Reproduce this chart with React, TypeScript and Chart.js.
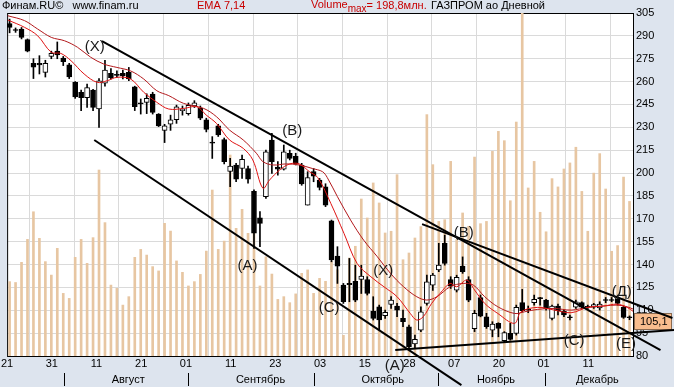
import React, { useEffect, useRef } from "react";
import { Chart, registerables } from "chart.js";

Chart.register(...registerables);

// ---- axis text ----
const tickLabels = ["21", "31", "11", "21", "01", "11", "23", "03", "15", "28", "07", "20", "01", "11"];
const monthNames = ["Август", "Сентябрь", "Октябрь", "Ноябрь", "Декабрь"];
const monthCenters = [19.9, 42.1, 62.6, 81.6, 98.6];
const monthBreaks = [9.1, 29.9, 51.1, 71.9, 89.9];
const priceTicks = [80, 95, 110, 125, 140, 155, 170, 185, 200, 215, 230, 245, 260, 275, 290, 305];

// ---- daily candles (ГАЗПРОМ ао) ----
const opens = [
  298, 294.2, 294.5, 287.5, 272, 272, 266, 276.5, 280, 275.5,
  271, 259.5, 253, 249.5, 254.5, 242, 259, 265.5, 264.8, 265.5,
  266, 256.5, 246.1, 246.4, 251.8, 238.7, 228, 232, 235, 241,
  239, 244, 242.5, 235, 220.3, 231, 222, 201, 205.3, 203,
  203, 188, 170.7, 184.5, 221.7, 204, 202.5, 213, 211, 205.3,
  179, 201, 195.4, 191, 168.7, 145.5, 126.5, 127.6, 129, 130.2,
  130.2, 109.4, 112.3, 106.4, 113.8, 112.8, 104.7, 99.2, 88, 97,
  114.5, 126.5, 136.4, 153.9, 130.2, 123.2, 139, 130.2, 98, 118.4,
  105.7, 97, 101.4, 90, 94.8, 94.8, 115, 110.6, 115, 118.3,
  116.7, 104.7, 112.8, 109.5, 105.7, 112, 115, 112.6, 112, 111.5,
  117, 117, 117.2, 112, 105.7,
];
const highs = [
  301, 295.2, 295.5, 288, 275, 277, 274, 280, 286, 276.5,
  272, 260, 254.5, 258.4, 255, 262, 274, 268.5, 267, 267.6,
  269.3, 257, 248.6, 252, 253, 239, 232, 238, 244.6, 244,
  246, 247.5, 244, 236, 223.9, 232, 223, 209.6, 206.4, 211.8,
  204.6, 189, 174.7, 215, 226, 207.5, 218.4, 215, 213, 206.4,
  200.9, 203, 196.5, 193, 169.2, 151.7, 127.6, 144, 139.6, 139.6,
  132, 118.9, 113.4, 110.1, 118.9, 114.5, 110.1, 100.3, 93.7, 112.3,
  133, 134.2, 153.9, 159.3, 132, 133, 145, 132, 110, 120,
  108, 102.5, 101.8, 96, 101.4, 113.4, 123.7, 112.8, 120, 118.5,
  117.2, 113.4, 114, 110.1, 106.9, 116.7, 115.6, 113.4, 114.5, 115.6,
  118.4, 118.4, 118.9, 112.8, 106.3,
];
const lows = [
  292, 292.3, 288, 279.5, 262, 265, 263, 275, 275, 270.5,
  262, 249, 241, 243, 241, 230, 257, 261.7, 262.8, 261.7,
  260.6, 241, 238.7, 239, 238.7, 230.5, 220, 228, 232.6, 238,
  238, 243, 235, 227, 209.6, 224, 206, 191, 194.3, 196.5,
  193.3, 150.6, 151.7, 183.4, 199.8, 198.7, 202, 208.6, 205.3, 192,
  179, 194.3, 188.9, 178, 141.8, 127.6, 114.5, 115.6, 115.6, 121,
  120, 103.6, 97, 104.7, 111.2, 105.8, 99.2, 85, 85, 95.9,
  113.4, 123, 135.3, 139.6, 124.3, 122, 134.2, 115.6, 96, 105.7,
  98.1, 92.6, 92.6, 89.4, 90.4, 93.7, 109, 108.4, 113.4, 113.4,
  110.1, 103.6, 106.9, 105.8, 103.6, 111.2, 111.2, 111.2, 111.2, 110.1,
  115, 115.6, 113.4, 104.7, 103.8,
];
const closes = [
  295.6, 293.5, 289, 280, 269.5, 271, 272, 278.5, 277.5, 273,
  263, 250, 249.5, 256, 243, 260.5, 267.5, 262.5, 264.1, 263.7,
  261.7, 243.5, 245.4, 249, 239.8, 231, 231, 235, 243.5, 242,
  244.5, 246, 236, 228.7, 219.6, 225, 207.5, 204.6, 196, 209,
  196, 160.5, 167, 214, 207.5, 202.5, 214, 209.6, 206, 192.8,
  197, 198, 190.6, 179, 143, 139, 115.6, 126.8, 116.7, 132.4,
  121, 104.7, 103.6, 108.6, 116.7, 110.1, 102.5, 86.1, 91, 109,
  128.7, 133, 139.6, 140.7, 125.8, 131.6, 135.3, 116.7, 108, 106.2,
  99.2, 101, 98.1, 95.3, 90.9, 111.9, 109.7, 110, 117.2, 117.6,
  111.2, 112.8, 109.7, 107, 105.1, 115.6, 112, 112, 113.8, 114,
  116.4, 116.4, 114.5, 105.3, 105.1,
];
// volume, млн. шт.
const volumes = [
  43.1, 42.6, 54.3, 67.6, 83.6, 68.2, 54.7, 46.9, 62.4, 36.3,
  33.4, 57.2, 67.6, 53.7, 68.6, 107.8, 77.3, 41.1, 39.2, 29.5,
  34.4, 57.2, 61.8, 58.5, 51.8, 49.3, 76.9, 72.4, 55.1, 48.5,
  40.6, 43.1, 47.3, 60.8, 96.2, 61.8, 66.6, 116.5, 74, 85,
  71.1, 95, 40.6, 57.5, 47.5, 32.8, 34.4, 30.9, 36, 47.9,
  49.9, 36.3, 45, 43.3, 55, 50, 12, 56.8, 63.6, 91,
  80, 100.3, 88.7, 71.3, 72.3, 105.1, 55.8, 59.7, 68.4, 75,
  139.9, 110.9, 78, 79, 112.8, 67.4, 82.9, 75.2, 115.3, 76.7,
  78, 118.6, 130.2, 124.8, 90, 135.6, 198.8, 97.4, 112.8, 83.3,
  72, 102.8, 98, 108.4, 111.9, 121, 95.4, 72.3, 106, 117.3,
  96.8, 60.7, 64, 103.7, 89.6,
];
const volumeMax = 198.8;
const lastPrice = 105.1;

// ---- EMA lines: [candle index, value] ----
const emaFast = [
  [-0.3, 300.4], [2.5, 295.6], [4.7, 290.1], [7, 279.2], [8.6, 278.5], [10.3, 273.7], [12.5, 265],
  [14.7, 259.5], [16.4, 260.6], [18, 262.8], [20.3, 261.7], [22.5, 253], [24.7, 246.4], [26.7, 242],
  [29.2, 242.4], [31.4, 243.5], [33, 238], [34.7, 232.6], [36.9, 221.7], [39.2, 216.2], [40.8, 208.6],
  [42.5, 190], [43.6, 195.4], [45.3, 202], [47, 206], [48.6, 206], [50.3, 200.9], [51.7, 197],
  [53.9, 180], [56.1, 160.4], [58.3, 140.7], [60.6, 132], [62.8, 125.4], [65, 118.9], [67.2, 108],
  [68.3, 103.6], [69.4, 105.8], [70.8, 114.5], [72.2, 121], [73.9, 127.6], [75, 125.4], [76.7, 129.8],
  [78, 123.3], [79.7, 114.5], [81.9, 107.9], [84.7, 101.4], [85.8, 109], [88.6, 111.9], [91.4, 110.1],
  [94.2, 108.4], [97, 111.9], [99.7, 112.8], [101.9, 114], [103.6, 111.9], [104.7, 109],
];
const emaSlow = [
  [-0.3, 303.2], [2.5, 300], [4.7, 294.5], [7, 289], [9.2, 286.8], [11.4, 282.5], [13.6, 276],
  [15.8, 271.5], [18, 269.3], [20.3, 267], [22.5, 261.7], [24.7, 254], [26.7, 250.8], [29.2, 245.7],
  [32.5, 242.5], [34.7, 237], [36.9, 228.2], [39.2, 221.7], [41.4, 213], [42.5, 207.5], [44.2, 205.3],
  [46.4, 206], [48.6, 205.3], [50.8, 203], [52.5, 200.9], [53.3, 197], [55, 184.5], [57.2, 169.2],
  [59.4, 156], [61.7, 145.1], [63.9, 134.2], [66.1, 125.4], [68.3, 118.9], [70, 116.7], [71.7, 118.9],
  [73.9, 125.4], [76.1, 127.6], [77.8, 126.5], [79.7, 118.9], [81.9, 112.3], [84.7, 107.9], [86.4, 109],
  [88.6, 110.6], [91.4, 111.2], [94.2, 110.1], [97, 111.9], [99.7, 112.8], [101.9, 113.4], [103.6, 112.3],
  [104.7, 110.6],
];

// ---- hand-drawn trend lines: [candle index, price] endpoints ----
const trendLines = [
  [[15.5, 286.6], [109.2, 83.9]],
  [[14.2, 221.7], [75.8, 60.9]],
  [[64.7, 83.9], [111.5, 97]],
  [[69.2, 166.5], [111.2, 104.9]],
];

// ---- wave labels ----
const waveText = ["(X)", "(B)", "(A)", "(C)", "(X)", "(B)", "(A)", "(C)", "(Д)", "(E)"];
const waveX = [14.3, 47.4, 39.9, 53.6, 62.7, 76.2, 64.6, 94.7, 102.7, 103.4];
const waveY = [282.7, 227.6, 139, 111.4, 135.7, 160.6, 73.4, 89.8, 121.9, 87.8];

const FONT = "'Liberation Sans', Arial, sans-serif";

export default function App() {
  const ref = useRef<HTMLCanvasElement | null>(null);

  useEffect(() => {
    document.body.style.margin = "0";
    const canvas = ref.current;
    if (!canvas) return;

    const decor = {
      id: "decor",
      beforeDraw(chart: any) {
        const { ctx, chartArea: a, width, height } = chart;
        ctx.save();
        ctx.fillStyle = "#dde4ee";
        ctx.fillRect(0, 0, width, height);
        ctx.fillStyle = "#ffffff";
        ctx.fillRect(a.left, a.top, a.right - a.left, a.bottom - a.top);
        ctx.restore();
      },
      beforeDatasetsDraw(chart: any) {
        const { ctx, chartArea: a } = chart;
        const ys = chart.scales.y;
        ctx.save();
        ctx.strokeStyle = "#000";
        ctx.lineWidth = 1;
        ctx.strokeRect(a.left + 0.5, a.top + 0.5, a.right - a.left, a.bottom - a.top);
        // last price box
        const py = Math.round(ys.getPixelForValue(lastPrice)) + 3;
        ctx.fillStyle = "#f8bd8e";
        ctx.fillRect(a.right + 1, py - 8, 38, 17);
        ctx.strokeStyle = "#8a6a50";
        ctx.strokeRect(a.right + 1.5, py - 7.5, 37, 16);
        ctx.fillStyle = "#000";
        ctx.font = `11px ${FONT}`;
        ctx.textBaseline = "middle";
        ctx.textAlign = "left";
        ctx.fillText(lastPrice.toFixed(1).replace(".", ","), a.right + 7, py + 1);
        ctx.restore();
      },
      afterDraw(chart: any) {
        const { ctx } = chart;
        const xs = chart.scales.x;
        const ys = chart.scales.y;
        ctx.save();
        // header
        ctx.textBaseline = "middle";
        ctx.textAlign = "left";
        ctx.font = `11px ${FONT}`;
        ctx.fillStyle = "#000";
        ctx.fillText("Финам.RU©   www.finam.ru", 2, 6);
        ctx.fillStyle = "#c80000";
        ctx.fillText("EMA 7,14", 197, 6);
        ctx.fillText("Volume", 311, 5);
        const w = ctx.measureText("Volume").width;
        ctx.font = `10px ${FONT}`;
        ctx.fillText("max", 311 + w, 9);
        const w2 = ctx.measureText("max").width;
        ctx.font = `11px ${FONT}`;
        ctx.fillText("= " + volumeMax.toFixed(1).replace(".", ",") + "млн.", 311 + w + w2, 6);
        ctx.fillStyle = "#000";
        ctx.fillText("ГАЗПРОМ ао Дневной", 431, 6);

        // months
        ctx.font = `11px ${FONT}`;
        ctx.textAlign = "center";
        ctx.fillStyle = "#000";
        monthNames.forEach((m, k) => {
          ctx.fillText(m, xs.getPixelForValue(monthCenters[k]), 380);
        });
        ctx.strokeStyle = "#000";
        ctx.lineWidth = 1;
        monthBreaks.forEach((b) => {
          const x = Math.round(xs.getPixelForValue(b)) + 0.5;
          ctx.beginPath();
          ctx.moveTo(x, 373);
          ctx.lineTo(x, 386);
          ctx.stroke();
        });

        // wave labels
        ctx.font = `15px ${FONT}`;
        ctx.fillStyle = "#1a1a1a";
        waveText.forEach((t, k) => {
          ctx.fillText(t, xs.getPixelForValue(waveX[k]), ys.getPixelForValue(waveY[k]));
        });
        ctx.restore();
      },
    };

    const xMin = -0.4167;
    const chart = new Chart(canvas, {
      type: "bar",
      data: {
        datasets: [
          {
            type: "bar",
            label: "volume",
            data: volumes.map((v, i) => ({ x: i, y: v })),
            yAxisID: "yv",
            backgroundColor: "#e7c6a2",
            barThickness: 2,
            grouped: false,
            order: 100,
          } as any,
          {
            type: "bar",
            label: "wick",
            data: highs.map((h, i) => ({ x: i, y: [lows[i], h] })),
            yAxisID: "y",
            backgroundColor: "#000",
            barThickness: 1,
            grouped: false,
            order: 50,
          },
          {
            type: "bar",
            label: "body",
            data: opens.map((o, i) => ({ x: i, y: [o, closes[i]] })),
            yAxisID: "y",
            backgroundColor: opens.map((o, i) => (closes[i] > o ? "#ffffff" : "#000000")),
            borderColor: "#000",
            borderWidth: 1,
            borderSkipped: false,
            barThickness: 5,
            minBarLength: 1,
            grouped: false,
            order: 40,
          },
          {
            type: "line",
            label: "EMA14",
            data: emaSlow.map(([x, y]) => ({ x, y })),
            yAxisID: "y",
            borderColor: "#b3191c",
            borderWidth: 1,
            pointRadius: 0,
            tension: 0.35,
            order: 30,
          },
          {
            type: "line",
            label: "EMA7",
            data: emaFast.map(([x, y]) => ({ x, y })),
            yAxisID: "y",
            borderColor: "#e01414",
            borderWidth: 1,
            pointRadius: 0,
            tension: 0.35,
            order: 29,
          },
          ...trendLines.map((ln, k) => ({
            type: "line",
            label: "trend" + k,
            data: ln.map(([x, y]) => ({ x, y })),
            yAxisID: "y",
            borderColor: "#000",
            borderWidth: 2,
            pointRadius: 0,
            clip: false,
            order: 5,
          })),
        ] as any,
      },
      options: {
        responsive: false,
        animation: false,
        devicePixelRatio: 1,
        events: [],
        layout: { padding: { left: 3, top: 13, right: 0, bottom: 0 } },
        plugins: { legend: { display: false }, tooltip: { enabled: false } },
        scales: {
          x: {
            type: "linear",
            min: xMin,
            max: xMin + 105,
            offset: false,
            afterBuildTicks: (s: any) => {
              s.ticks = tickLabels.map((_, k) => ({ value: xMin + 7.5 * k }));
            },
            afterFit: (s: any) => {
              s.height = 31;
            },
            ticks: {
              autoSkip: false,
              maxRotation: 0,
              padding: 1,
              color: "#000",
              font: { family: FONT, size: 11 },
              callback: (_v: any, idx: number) => tickLabels[idx],
            },
            grid: { color: "#dadada", drawTicks: false },
            border: { display: false },
          },
          y: {
            position: "right",
            min: 80,
            max: 305,
            afterBuildTicks: (s: any) => {
              s.ticks = priceTicks.map((v) => ({ value: v }));
            },
            afterFit: (s: any) => {
              s.width = 41;
            },
            ticks: { padding: 3, color: "#000", font: { family: FONT, size: 11 } },
            grid: { color: "#dadada", drawTicks: false },
            border: { display: false },
          },
          yv: { display: false, min: 0, max: volumeMax },
        },
      } as any,
      plugins: [decor],
    });
    return () => chart.destroy();
  }, []);

  return <canvas ref={ref} width={674} height={387} style={{ display: "block" }} />;
}
